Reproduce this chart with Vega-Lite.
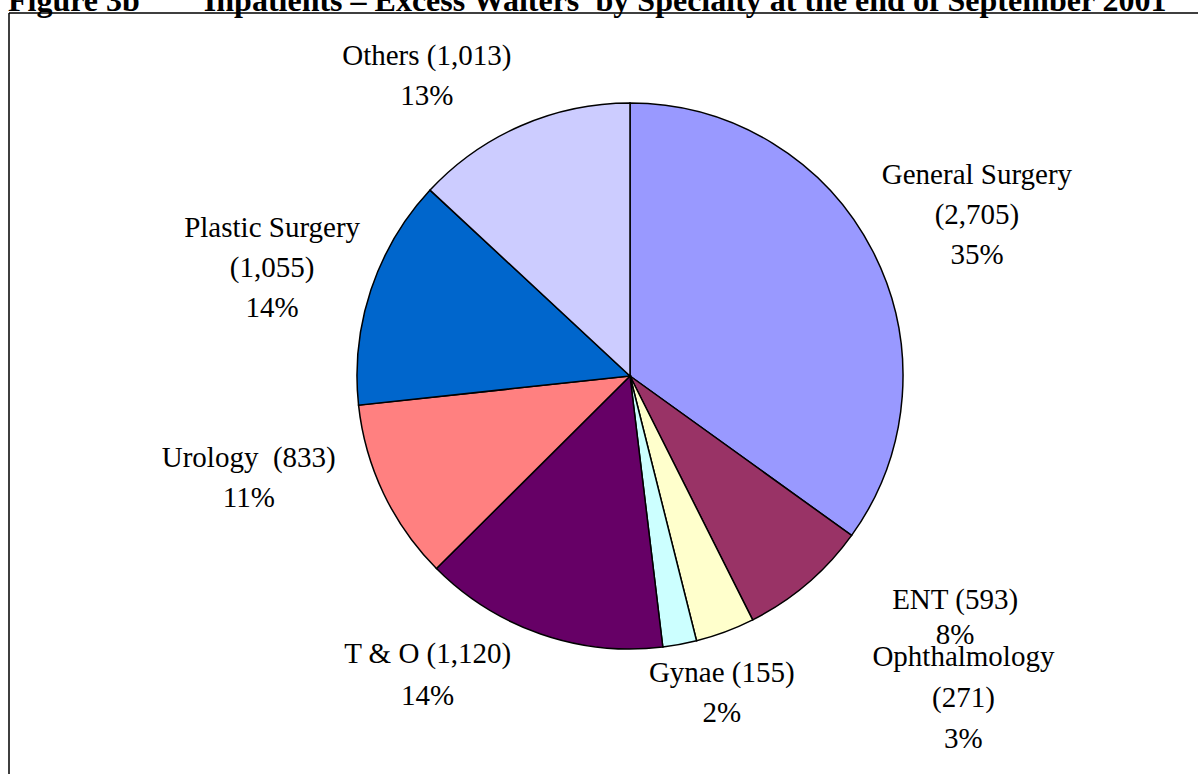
{
  "$schema": "https://vega.github.io/schema/vega-lite/v6.json",
  "width": 1189,
  "height": 761,
  "autosize": {"type": "none"},
  "padding": {"left": 9, "top": 13, "right": 0, "bottom": 0},
  "background": "white",
  "view": {"stroke": "black", "strokeWidth": 1.5, "strokeDash": [1189, 1950, 761, 0], "fill": "white"},
  "title": {
    "text": "Figure 3b\u00a0\u00a0\u00a0\u00a0\u00a0\u00a0\u00a0\u00a0Inpatients – Excess Waiters’ by Specialty at the end of September 2001",
    "font": "Liberation Serif",
    "fontSize": 32,
    "fontWeight": "bold",
    "color": "black",
    "anchor": "start",
    "frame": "group",
    "offset": -5,
    "dx": -1
  },
  "data": {
    "values": [
      {"specialty": "General Surgery", "count": 2705, "idx": 1, "label": "General Surgery\n(2,705)\n35%"},
      {"specialty": "ENT", "count": 593, "idx": 2, "label": "ENT (593)\n8%"},
      {"specialty": "Ophthalmology", "count": 271, "idx": 3, "label": "Ophthalmology\n(271)\n3%"},
      {"specialty": "Gynae", "count": 155, "idx": 4, "label": "Gynae (155)\n2%"},
      {"specialty": "T & O", "count": 1120, "idx": 5, "label": "T & O (1,120)\n14%"},
      {"specialty": "Urology", "count": 833, "idx": 6, "label": "Urology\u00a0 (833)\n11%"},
      {"specialty": "Plastic Surgery", "count": 1055, "idx": 7, "label": "Plastic Surgery\n(1,055)\n14%"},
      {"specialty": "Others", "count": 1013, "idx": 8, "label": "Others (1,013)\n13%"}
    ]
  },
  "encoding": {
    "theta": {"field": "count", "type": "quantitative", "stack": true},
    "order": {"field": "idx", "type": "quantitative"}
  },
  "layer": [
    {
      "mark": {"type": "arc", "outerRadius": 273, "stroke": "black", "strokeWidth": 1.5, "xOffset": 26.5, "yOffset": -17.5},
      "encoding": {
        "color": {
          "field": "specialty",
          "type": "nominal",
          "scale": {
            "domain": ["General Surgery", "ENT", "Ophthalmology", "Gynae", "T & O", "Urology", "Plastic Surgery", "Others"],
            "range": ["#9999FF", "#993366", "#FFFFCC", "#CCFFFF", "#660066", "#FF8080", "#0066CC", "#CCCCFF"]
          },
          "legend": null
        }
      }
    },
    {
      "mark": {"type": "text", "clip": true, "radius": 382, "dx": 7, "dy": -27, "xOffset": 26.5, "yOffset": -17.5, "font": "Liberation Serif", "fontSize": 29, "lineBreak": "\n", "lineHeight": 40, "align": "center", "baseline": "middle", "color": "black"},
      "encoding": {"text": {"condition": {"test": "datum.specialty === 'General Surgery'", "field": "label"}, "value": ""}}
    },
    {
      "mark": {"type": "text", "clip": true, "radius": 396, "dx": 68, "dy": -77, "xOffset": 26.5, "yOffset": -17.5, "font": "Liberation Serif", "fontSize": 29, "lineBreak": "\n", "lineHeight": 35, "align": "center", "baseline": "middle", "color": "black"},
      "encoding": {"text": {"condition": {"test": "datum.specialty === 'ENT'", "field": "label"}, "value": ""}}
    },
    {
      "mark": {"type": "text", "clip": true, "radius": 417, "dx": 188, "dy": -110, "xOffset": 26.5, "yOffset": -17.5, "font": "Liberation Serif", "fontSize": 29, "lineBreak": "\n", "lineHeight": 41, "align": "center", "baseline": "middle", "color": "black"},
      "encoding": {"text": {"condition": {"test": "datum.specialty === 'Ophthalmology'", "field": "label"}, "value": ""}}
    },
    {
      "mark": {"type": "text", "clip": true, "radius": 328, "dx": 32, "dy": -26, "xOffset": 26.5, "yOffset": -17.5, "font": "Liberation Serif", "fontSize": 29, "lineBreak": "\n", "lineHeight": 40, "align": "center", "baseline": "middle", "color": "black"},
      "encoding": {"text": {"condition": {"test": "datum.specialty === 'Gynae'", "field": "label"}, "value": ""}}
    },
    {
      "mark": {"type": "text", "clip": true, "radius": 349, "dx": -88, "dy": -52, "xOffset": 26.5, "yOffset": -17.5, "font": "Liberation Serif", "fontSize": 29, "lineBreak": "\n", "lineHeight": 42, "align": "center", "baseline": "middle", "color": "black"},
      "encoding": {"text": {"condition": {"test": "datum.specialty === 'T & O'", "field": "label"}, "value": ""}}
    },
    {
      "mark": {"type": "text", "clip": true, "radius": 388, "dx": -31, "dy": -85, "xOffset": 26.5, "yOffset": -17.5, "font": "Liberation Serif", "fontSize": 29, "lineBreak": "\n", "lineHeight": 40, "align": "center", "baseline": "middle", "color": "black"},
      "encoding": {"text": {"condition": {"test": "datum.specialty === 'Urology'", "field": "label"}, "value": ""}}
    },
    {
      "mark": {"type": "text", "clip": true, "radius": 374, "dx": -3, "dy": -30, "xOffset": 26.5, "yOffset": -17.5, "font": "Liberation Serif", "fontSize": 29, "lineBreak": "\n", "lineHeight": 40, "align": "center", "baseline": "middle", "color": "black"},
      "encoding": {"text": {"condition": {"test": "datum.specialty === 'Plastic Surgery'", "field": "label"}, "value": ""}}
    },
    {
      "mark": {"type": "text", "clip": true, "radius": 356, "dx": -61, "dy": 6, "xOffset": 26.5, "yOffset": -17.5, "font": "Liberation Serif", "fontSize": 29, "lineBreak": "\n", "lineHeight": 40, "align": "center", "baseline": "middle", "color": "black"},
      "encoding": {"text": {"condition": {"test": "datum.specialty === 'Others'", "field": "label"}, "value": ""}}
    }
  ]
}
